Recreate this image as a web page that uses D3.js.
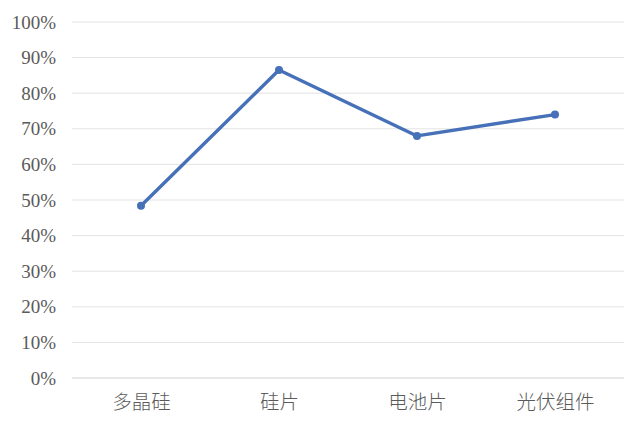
<!DOCTYPE html>
<html>
<head>
<meta charset="utf-8">
<script src="https://cdn.jsdelivr.net/npm/d3@7"></script>
<style>
  html, body { margin: 0; padding: 0; background: #fff; }
  svg { display: block; }
</style>
</head>
<body>
<svg id="chart" width="640" height="421"></svg>
<script>
// Stage shares along the PV supply chain
const categories = ["多晶硅", "硅片", "电池片", "光伏组件"];
const values = [0.484, 0.865, 0.680, 0.740];
const yTicks = [0, 0.1, 0.2, 0.3, 0.4, 0.5, 0.6, 0.7, 0.8, 0.9, 1.0];

const svg = d3.select("#chart");
const margin = { left: 72, right: 16, top: 22, bottom: 43 };
const width = 640, height = 421;

const x = d3.scalePoint()
  .domain(categories)
  .range([margin.left, width - margin.right])
  .padding(0.5);

const y = d3.scaleLinear()
  .domain([0, 1])
  .range([height - margin.bottom, margin.top]);

// horizontal gridlines
svg.append("g")
  .selectAll("line")
  .data(yTicks)
  .join("line")
  .attr("x1", margin.left)
  .attr("x2", width - margin.right)
  .attr("y1", d => y(d))
  .attr("y2", d => y(d))
  .attr("stroke", d => d === 0 ? "#d0d0d0" : "#e3e3e3")
  .attr("stroke-width", 1);

// y axis labels
const yAxis = d3.axisLeft(y)
  .tickValues(yTicks)
  .tickFormat(d3.format(".0%"))
  .tickSize(0)
  .tickPadding(16);

svg.append("g")
  .attr("transform", `translate(${margin.left},0)`)
  .call(yAxis)
  .call(g => g.select(".domain").remove())
  .selectAll("text")
  .attr("font-family", "'Liberation Serif', 'DejaVu Serif', serif")
  .attr("font-size", 19)
  .attr("fill", "#5a5a5a");

// x axis labels
const xAxis = d3.axisBottom(x).tickSize(0).tickPadding(17);
svg.append("g")
  .attr("transform", `translate(0,${y(0)})`)
  .call(xAxis)
  .call(g => g.select(".domain").remove())
  .selectAll("text")
  .attr("font-family", "'Noto Sans CJK SC', sans-serif")
  .attr("font-size", 19.5)
  .attr("font-weight", 300)
  .attr("fill", "#5a5a5a");

// line
const line = d3.line()
  .x((d, i) => x(categories[i]))
  .y(d => y(d));

svg.append("path")
  .datum(values)
  .attr("d", line)
  .attr("fill", "none")
  .attr("stroke", "#4670B8")
  .attr("stroke-width", 3.4)
  .attr("stroke-linejoin", "round");

svg.append("g")
  .selectAll("circle")
  .data(values)
  .join("circle")
  .attr("cx", (d, i) => x(categories[i]))
  .attr("cy", d => y(d))
  .attr("r", 4)
  .attr("fill", "#4670B8");
</script>
</body>
</html>
